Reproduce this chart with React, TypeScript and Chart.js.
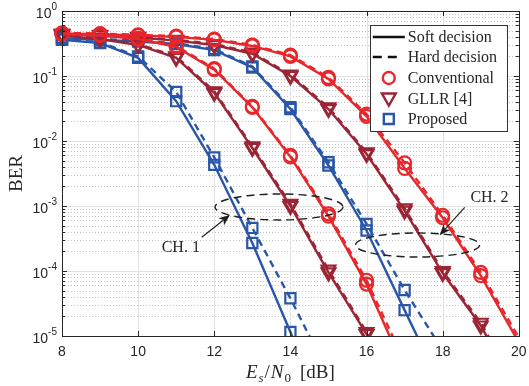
import React, { useEffect, useRef } from "react";
import { Chart, registerables } from "chart.js";

Chart.register(...registerables);

// ---------- data ----------
const SNR_DB = [8, 9, 10, 11, 12, 13, 14, 15, 16, 17, 18, 19, 20];

// Channel 1
const CONV_CH1_SOFT = [0.44, 0.42, 0.37, 0.28, 0.125, 0.033, 0.0057, 7.0e-4, 6.3e-5, 3e-6, null, null, null];
const CONV_CH1_HARD = [0.45, 0.43, 0.38, 0.29, 0.13, 0.034, 0.006, 7.6e-4, 7.2e-5, 4e-6, null, null, null];
const GLLR_CH1_SOFT = [0.42, 0.37, 0.30, 0.19, 0.055, 0.0078, 1.0e-3, 9.5e-5, 1.07e-5, 9e-7, null, null, null];
const GLLR_CH1_HARD = [0.43, 0.38, 0.31, 0.20, 0.058, 0.0083, 1.08e-3, 1.05e-4, 1.15e-5, 1.2e-6, null, null, null];
const PROP_CH1_SOFT = [0.36, 0.32, 0.19, 0.041, 0.0043, 2.7e-4, 1.15e-5, 5e-7, null, null, null, null, null];
const PROP_CH1_HARD = [0.37, 0.33, 0.20, 0.057, 0.0056, 4.6e-4, 3.8e-5, 2.6e-6, null, null, null, null, null];

// Channel 2
const CONV_CH2_SOFT = [0.45, 0.44, 0.42, 0.40, 0.36, 0.29, 0.20, 0.09, 0.024, 0.0038, 6.6e-4, 8.5e-5, 8e-6];
const CONV_CH2_HARD = [0.46, 0.45, 0.43, 0.41, 0.37, 0.30, 0.21, 0.095, 0.026, 0.0046, 7.2e-4, 9.5e-5, 9.5e-6];
const GLLR_CH2_SOFT = [0.44, 0.42, 0.39, 0.35, 0.30, 0.22, 0.10, 0.031, 0.0063, 8.5e-4, 9.3e-5, 1.45e-5, 1.2e-6];
const GLLR_CH2_HARD = [0.45, 0.43, 0.40, 0.36, 0.31, 0.23, 0.105, 0.033, 0.0067, 9.2e-4, 1.0e-4, 1.6e-5, 1.5e-6];
const PROP_CH2_SOFT = [0.38, 0.36, 0.34, 0.31, 0.25, 0.135, 0.031, 0.0042, 4.2e-4, 2.5e-5, 1.5e-6, null, null];
const PROP_CH2_HARD = [0.39, 0.37, 0.35, 0.32, 0.26, 0.14, 0.033, 0.0047, 5.3e-4, 5.1e-5, 6e-6, null, null];

const X_TICKS = [8, 10, 12, 14, 16, 18, 20];
const Y_TICK_EXPONENTS = [0, -1, -2, -3, -4, -5];
const LEGEND_LABELS = ["Soft decision", "Hard decision", "Conventional", "GLLR [4]", "Proposed"];
const X_TITLE = ["E", "s", "/N", "0", "[dB]"];
const Y_TITLE = "BER";
const CH_LABELS = ["CH. 1", "CH. 2"];

// ---------- styles ----------
const RED = "#e8262b";
const DARK_RED = "#9c2535";
const BLUE = "#2a56a8";
const SERIF = "'Liberation Serif', 'Times New Roman', serif";
const SANS = "'Liberation Sans', Arial, sans-serif";

type Scheme = "conv" | "gllr" | "prop";
const SCHEME_STYLE: Record<Scheme, { color: string; pointStyle: string; radius: number; rotation: number }> = {
  conv: { color: RED, pointStyle: "circle", radius: 6.5, rotation: 0 },
  gllr: { color: DARK_RED, pointStyle: "triangle", radius: 8, rotation: 180 },
  prop: { color: BLUE, pointStyle: "rect", radius: 7.2, rotation: 0 },
};

const SERIES: { label: string; values: (number | null)[]; scheme: Scheme; hard: boolean }[] = [
  { label: "Conventional CH.1 soft", values: CONV_CH1_SOFT, scheme: "conv", hard: false },
  { label: "Conventional CH.1 hard", values: CONV_CH1_HARD, scheme: "conv", hard: true },
  { label: "GLLR CH.1 soft", values: GLLR_CH1_SOFT, scheme: "gllr", hard: false },
  { label: "GLLR CH.1 hard", values: GLLR_CH1_HARD, scheme: "gllr", hard: true },
  { label: "Proposed CH.1 soft", values: PROP_CH1_SOFT, scheme: "prop", hard: false },
  { label: "Proposed CH.1 hard", values: PROP_CH1_HARD, scheme: "prop", hard: true },
  { label: "Conventional CH.2 soft", values: CONV_CH2_SOFT, scheme: "conv", hard: false },
  { label: "Conventional CH.2 hard", values: CONV_CH2_HARD, scheme: "conv", hard: true },
  { label: "GLLR CH.2 soft", values: GLLR_CH2_SOFT, scheme: "gllr", hard: false },
  { label: "GLLR CH.2 hard", values: GLLR_CH2_HARD, scheme: "gllr", hard: true },
  { label: "Proposed CH.2 soft", values: PROP_CH2_SOFT, scheme: "prop", hard: false },
  { label: "Proposed CH.2 hard", values: PROP_CH2_HARD, scheme: "prop", hard: true },
];

// annotation positions in data units: [dB, log10(BER)]
const ELLIPSES = [
  { cx: 13.7, cy: -3.015, rxDb: 1.68, ryDec: 0.2 },
  { cx: 17.34, cy: -3.6, rxDb: 1.63, ryDec: 0.185 },
];
const ARROWS = [
  { from: [11.67, -3.48], to: [12.41, -3.14], text: [11.12, -3.65] },
  { from: [18.58, -3.02], to: [17.92, -3.45], text: [19.23, -2.88] },
];

const HARD_DASH = [7, 5];

function drawMarker(ctx: CanvasRenderingContext2D, scheme: Scheme, x: number, y: number) {
  const st = SCHEME_STYLE[scheme];
  ctx.save();
  ctx.strokeStyle = st.color;
  ctx.lineWidth = 2.4;
  ctx.setLineDash([]);
  ctx.beginPath();
  if (scheme === "conv") {
    ctx.arc(x, y, 6, 0, Math.PI * 2);
  } else if (scheme === "gllr") {
    const r = 8;
    ctx.moveTo(x - r * 0.866, y - r * 0.5);
    ctx.lineTo(x + r * 0.866, y - r * 0.5);
    ctx.lineTo(x, y + r);
    ctx.closePath();
  } else {
    ctx.rect(x - 5, y - 5, 10, 10);
  }
  ctx.stroke();
  ctx.restore();
}

const decorPlugin = {
  id: "decor",
  beforeDatasetsDraw(chart: any) {
    const { ctx, chartArea: a, scales } = chart;
    const xs = scales.x;
    const ys = scales.y;
    ctx.save();
    ctx.lineWidth = 1;
    // minor y grid (dotted)
    ctx.strokeStyle = "#c4c4c4";
    ctx.setLineDash([1, 2]);
    for (let e = -5; e < 0; e++) {
      for (let m = 2; m <= 9; m++) {
        const y = Math.round(ys.getPixelForValue(m * Math.pow(10, e))) + 0.5;
        ctx.beginPath();
        ctx.moveTo(a.left, y);
        ctx.lineTo(a.right, y);
        ctx.stroke();
      }
    }
    ctx.setLineDash([]);
    ctx.strokeStyle = "#e2e2e2";
    X_TICKS.forEach((v) => {
      const x = Math.round(xs.getPixelForValue(v)) + 0.5;
      ctx.beginPath();
      ctx.moveTo(x, a.top);
      ctx.lineTo(x, a.bottom);
      ctx.stroke();
    });
    Y_TICK_EXPONENTS.forEach((e) => {
      const y = Math.round(ys.getPixelForValue(Math.pow(10, e))) + 0.5;
      ctx.beginPath();
      ctx.moveTo(a.left, y);
      ctx.lineTo(a.right, y);
      ctx.stroke();
    });
    ctx.restore();
  },
  afterDatasetsDraw(chart: any) {
    const { ctx, chartArea: a, scales } = chart;
    const xs = scales.x;
    const ys = scales.y;
    const px = (v: number) => xs.getPixelForValue(v);
    const py = (lg: number) => ys.getPixelForValue(Math.pow(10, lg));
    ctx.save();

    // annotations: ellipses
    ctx.strokeStyle = "#1e1e1e";
    ctx.lineWidth = 1.4;
    ctx.setLineDash([8, 5]);
    ELLIPSES.forEach((el) => {
      const cx = px(el.cx);
      const cy = py(el.cy);
      const rx = px(el.cx + el.rxDb) - cx;
      const ry = py(el.cy - el.ryDec) - cy;
      ctx.beginPath();
      ctx.ellipse(cx, cy, rx, ry, 0, 0, Math.PI * 2);
      ctx.stroke();
    });
    ctx.setLineDash([]);
    // arrows + labels
    ARROWS.forEach((ar, i) => {
      const x0 = px(ar.from[0]);
      const y0 = py(ar.from[1]);
      const x1 = px(ar.to[0]);
      const y1 = py(ar.to[1]);
      const ang = Math.atan2(y1 - y0, x1 - x0);
      const L = 11;
      const W = 4.5;
      const bx = x1 - L * Math.cos(ang);
      const by = y1 - L * Math.sin(ang);
      ctx.strokeStyle = "#1e1e1e";
      ctx.lineWidth = 1.1;
      ctx.beginPath();
      ctx.moveTo(x0, y0);
      ctx.lineTo(bx + 3 * Math.cos(ang), by + 3 * Math.sin(ang));
      ctx.stroke();
      ctx.fillStyle = "#1e1e1e";
      ctx.beginPath();
      ctx.moveTo(x1, y1);
      ctx.lineTo(bx - W * Math.sin(ang), by + W * Math.cos(ang));
      ctx.lineTo(bx + 3 * Math.cos(ang), by + 3 * Math.sin(ang));
      ctx.lineTo(bx + W * Math.sin(ang), by - W * Math.cos(ang));
      ctx.closePath();
      ctx.fill();
      ctx.font = `16px ${SERIF}`;
      ctx.fillStyle = "#262626";
      ctx.textAlign = "center";
      ctx.textBaseline = "middle";
      ctx.fillText(CH_LABELS[i], px(ar.text[0]), py(ar.text[1]));
    });

    // axis box
    ctx.strokeStyle = "#262626";
    ctx.lineWidth = 1;
    ctx.strokeRect(Math.round(a.left) + 0.5, Math.round(a.top) + 0.5, Math.round(a.right - a.left), Math.round(a.bottom - a.top));
    // ticks
    ctx.beginPath();
    X_TICKS.forEach((v) => {
      const x = Math.round(px(v)) + 0.5;
      ctx.moveTo(x, a.bottom);
      ctx.lineTo(x, a.bottom - 5);
      ctx.moveTo(x, a.top);
      ctx.lineTo(x, a.top + 5);
    });
    for (let e = -5; e <= 0; e++) {
      for (let m = 1; m <= 9; m++) {
        if (e === 0 && m > 1) break;
        const y = Math.round(ys.getPixelForValue(m * Math.pow(10, e))) + 0.5;
        const len = m === 1 ? 5 : 3;
        ctx.moveTo(a.left, y);
        ctx.lineTo(a.left + len, y);
        ctx.moveTo(a.right, y);
        ctx.lineTo(a.right - len, y);
      }
    }
    ctx.stroke();

    // x tick labels
    ctx.fillStyle = "#262626";
    ctx.font = `14px ${SANS}`;
    ctx.textAlign = "center";
    ctx.textBaseline = "middle";
    X_TICKS.forEach((v) => {
      ctx.fillText(String(v), px(v), a.bottom + 16);
    });
    // y tick labels 10^e
    Y_TICK_EXPONENTS.forEach((e) => {
      const y = ys.getPixelForValue(Math.pow(10, e)) + 3;
      const right = a.left - 5;
      const expStr = e === 0 ? "0" : "-" + String(-e);
      ctx.font = `10px ${SANS}`;
      const wE = ctx.measureText(expStr).width;
      ctx.textAlign = "left";
      ctx.textBaseline = "middle";
      ctx.fillText(expStr, right - wE, y - 7);
      ctx.font = `14px ${SANS}`;
      ctx.textAlign = "right";
      ctx.fillText("10", right - wE, y);
    });

    // y title
    ctx.save();
    ctx.translate(17, (a.top + a.bottom) / 2);
    ctx.rotate(-Math.PI / 2);
    ctx.font = `19px ${SERIF}`;
    ctx.textAlign = "center";
    ctx.textBaseline = "middle";
    ctx.fillStyle = "#262626";
    ctx.fillText(Y_TITLE, 0, 0);
    ctx.restore();

    // x title: E_s/N_0 [dB]
    {
      const base = a.bottom + 42;
      const parts = [
        { t: X_TITLE[0], f: `italic 19px ${SERIF}`, dy: 0, gap: 0 },
        { t: X_TITLE[1], f: `italic 13px ${SERIF}`, dy: 4, gap: 1 },
        { t: X_TITLE[2].slice(0, 1), f: `19px ${SERIF}`, dy: 0, gap: 1 },
        { t: X_TITLE[2].slice(1), f: `italic 19px ${SERIF}`, dy: 0, gap: 1 },
        { t: X_TITLE[3], f: `13px ${SERIF}`, dy: 4, gap: 1 },
        { t: X_TITLE[4], f: `19px ${SERIF}`, dy: 0, gap: 9 },
      ];
      let total = 0;
      parts.forEach((p) => {
        ctx.font = p.f;
        total += p.gap + ctx.measureText(p.t).width;
      });
      let x = (a.left + a.right) / 2 - total / 2;
      ctx.textAlign = "left";
      ctx.textBaseline = "alphabetic";
      ctx.fillStyle = "#262626";
      parts.forEach((p) => {
        ctx.font = p.f;
        x += p.gap;
        ctx.fillText(p.t, x, base + p.dy);
        x += ctx.measureText(p.t).width;
      });
    }

    // legend
    {
      const lx = a.right - 149;
      const ly = a.top + 14;
      const lw = 137;
      const lh = 106;
      ctx.fillStyle = "#ffffff";
      ctx.fillRect(lx, ly, lw, lh);
      ctx.strokeStyle = "#333333";
      ctx.lineWidth = 1;
      ctx.strokeRect(Math.round(lx) + 0.5, Math.round(ly) + 0.5, lw, lh);
      const rowY = [12, 32, 53, 74, 94];
      const sx0 = lx + 3;
      const sx1 = lx + 35;
      const mx = lx + 19;
      const tx = lx + 38;
      ctx.lineWidth = 2.6;
      ctx.strokeStyle = "#111111";
      // soft
      ctx.beginPath();
      ctx.moveTo(sx0, ly + rowY[0]);
      ctx.lineTo(sx1, ly + rowY[0]);
      ctx.stroke();
      // hard
      ctx.setLineDash([9, 6]);
      ctx.beginPath();
      ctx.moveTo(sx0, ly + rowY[1]);
      ctx.lineTo(sx0 + 24, ly + rowY[1]);
      ctx.stroke();
      ctx.setLineDash([]);
      drawMarker(ctx, "conv", mx, ly + rowY[2]);
      drawMarker(ctx, "gllr", mx, ly + rowY[3] - 1.5);
      drawMarker(ctx, "prop", mx, ly + rowY[4]);
      ctx.fillStyle = "#262626";
      ctx.font = `16px ${SERIF}`;
      ctx.textAlign = "left";
      ctx.textBaseline = "middle";
      LEGEND_LABELS.forEach((lab, i) => ctx.fillText(lab, tx, ly + rowY[i] + 1));
    }
    ctx.restore();
  },
};

export default function App() {
  const canvasRef = useRef<HTMLCanvasElement | null>(null);

  useEffect(() => {
    document.body.style.margin = "0";
    const canvas = canvasRef.current;
    if (!canvas) return;
    const datasets = SERIES.map((s) => {
      const st = SCHEME_STYLE[s.scheme];
      const pts = s.values
        .map((v, i) => (v == null ? null : { x: SNR_DB[i], y: v }))
        .filter((p) => p !== null);
      return {
        label: s.label,
        data: pts,
        borderColor: st.color,
        borderWidth: 2.4,
        borderDash: s.hard ? HARD_DASH : [],
        pointStyle: st.pointStyle,
        pointRotation: st.rotation,
        pointRadius: (c: any) => (c.raw && c.raw.y < 1e-5 ? 0 : st.radius),
        pointBorderWidth: 2.2,
        pointBorderColor: st.color,
        pointBackgroundColor: "rgba(0,0,0,0)",
        tension: 0,
        fill: false,
        clip: { left: 12, top: 12, right: 12, bottom: 0 },
      };
    });
    const chart = new Chart(canvas, {
      type: "line",
      data: { datasets: datasets as any },
      options: {
        animation: false,
        responsive: false,
        devicePixelRatio: 1,
        layout: { padding: { top: 11, right: 10, left: 0, bottom: 0 } },
        plugins: { legend: { display: false }, tooltip: { enabled: false } },
        scales: {
          x: {
            type: "linear",
            min: 8,
            max: 20,
            ticks: { display: false },
            grid: { display: false },
            border: { display: false },
            afterFit: (s: any) => {
              s.height = 50;
            },
          },
          y: {
            type: "logarithmic",
            min: 1e-5,
            max: 1,
            ticks: { display: false },
            grid: { display: false },
            border: { display: false },
            afterFit: (s: any) => {
              s.width = 62;
            },
          },
        },
      },
      plugins: [decorPlugin],
    });
    return () => chart.destroy();
  }, []);

  return (
    <div style={{ width: 529, height: 386, background: "#fff" }}>
      <canvas ref={canvasRef} width={529} height={386} style={{ display: "block" }} />
    </div>
  );
}
